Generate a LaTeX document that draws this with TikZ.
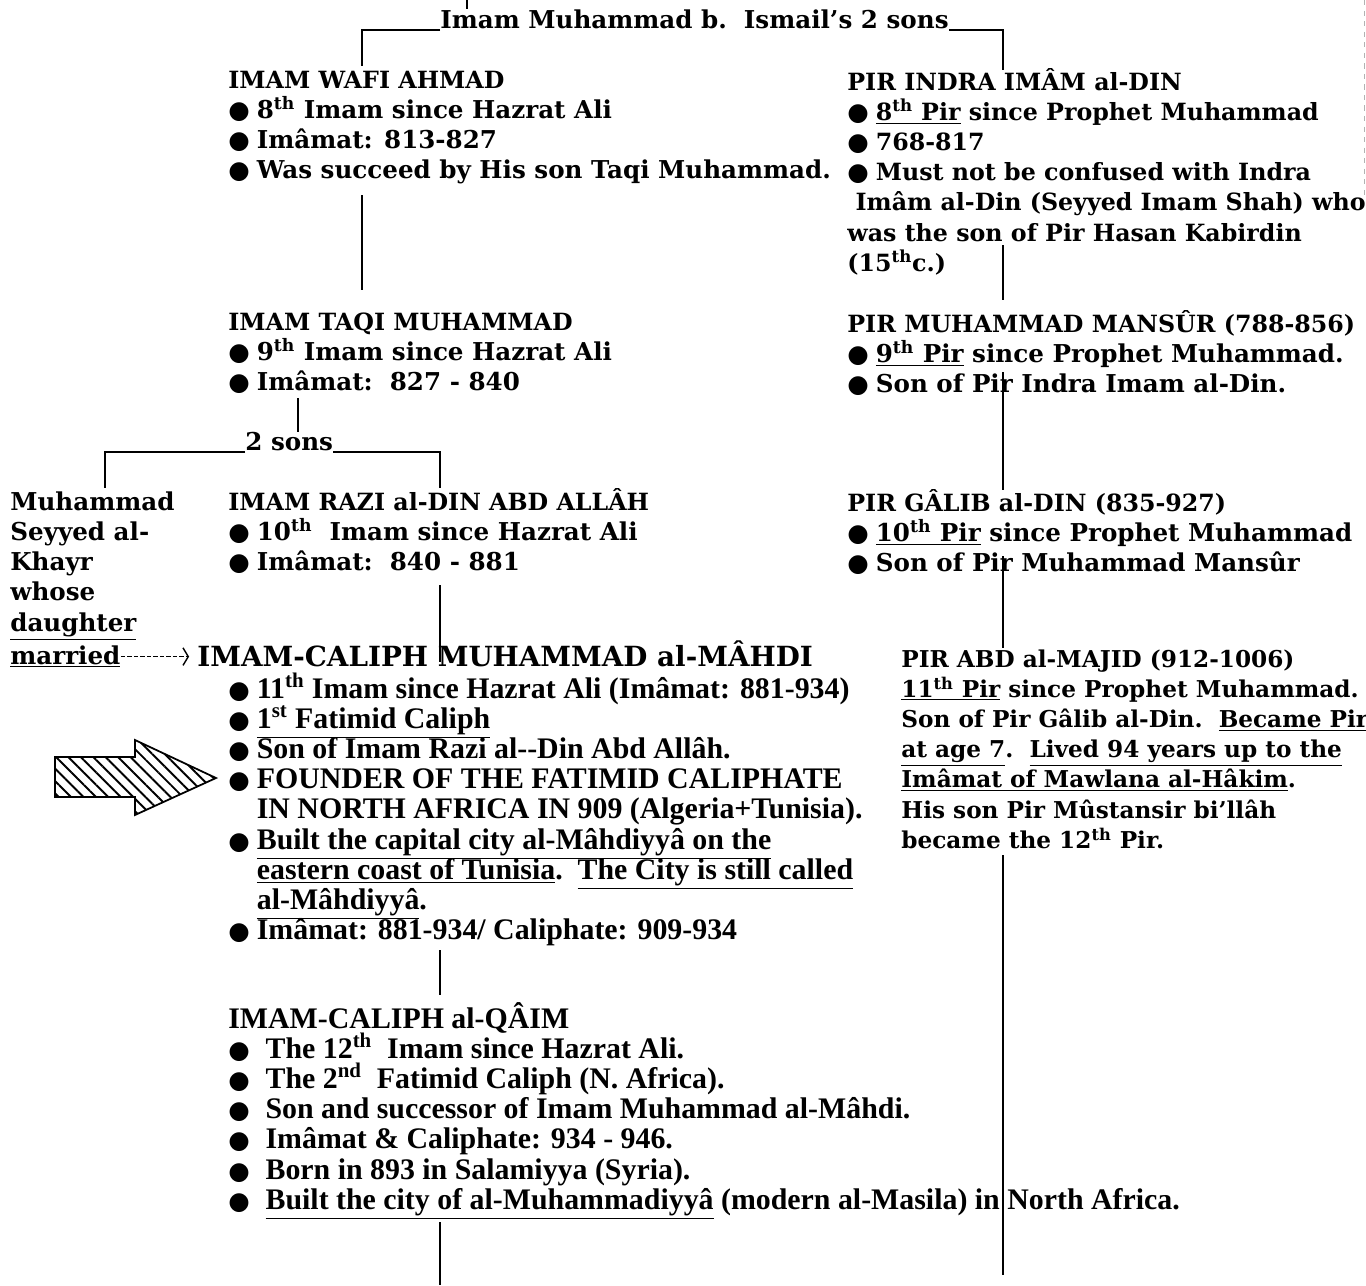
\documentclass[tikz,border=0pt]{standalone}
\usepackage{fontspec}
\setmainfont{DejaVu Serif}
\newfontfamily\condfont{Liberation Serif}
\newfontfamily\symfont{DejaVu Sans}
\usetikzlibrary{arrows.meta}
\usetikzlibrary{patterns.meta}

\newcommand\tightlines{\lineskiplimit=-20pt\lineskip=0pt}
\newcommand\geofont{\fontsize{14}{17.2}\selectfont\bfseries\tightlines}
\newcommand\capfont{\fontsize{13.5}{17.2}\selectfont}
\newcommand\narfont{\condfont\fontsize{17}{17.2}\selectfont\bfseries\tightlines}
\newcommand\bltmark{{\symfont\fontsize{14}{14}\selectfont ●}}
\newcommand\blt{\bltmark\hspace{4pt}}
\newcommand\hbul{\phantom{\bltmark}\hspace{4pt}}
\newcommand\bltw{\bltmark\hspace{9pt}}

\begin{document}
\begin{tikzpicture}[x=0.02cm,y=-0.02cm,
		every node/.style={inner sep=0pt},
		blk/.style={anchor=base west,align=left,font=\geofont},
		nar/.style={anchor=base west,align=left,font=\narfont},
		link/.style={line width=0.9pt}]
		\useasboundingbox (0,0) rectangle (1366,1285);

		% text blocks, each placed by the baseline of its last line
		\node [blk] (ismail) at (440,28) {Imam Muhammad b.\ \ Ismail’s 2 sons};

		\node [blk] (wafi) at (228,178.7) {{\capfont IMAM WAFI AHMAD}\\
			\blt 8\textsuperscript{th} Imam since Hazrat Ali\\
			\blt Imâmat: 813-827\\
			\blt Was succeed by His son Taqi Muhammad.};
		\node [blk,font=\fontsize{13.5}{17.2}\selectfont\bfseries\tightlines] (indra) at (847,271.4) {PIR INDRA IMÂM al-DIN\\
			\blt \underline{8\textsuperscript{th} Pir} since Prophet Muhammad\\
			\blt 768-817\\
			\blt Must not be confused with Indra\\
			\ Imâm al-Din (Seyyed Imam Shah) who\\
			was the son of Pir Hasan Kabirdin\\
			(15\textsuperscript{th}c.)};

		\node [blk] (taqi) at (228,390.5) {{\capfont IMAM TAQI MUHAMMAD}\\
			\blt 9\textsuperscript{th} Imam since Hazrat Ali\\
			\blt Imâmat:\ \ 827 - 840};
		\node [blk] (mansur) at (847,392.5) {{\capfont PIR MUHAMMAD MANSÛR (788-856)}\\
			\blt \underline{9\textsuperscript{th} Pir} since Prophet Muhammad.\\
			\blt Son of Pir Indra Imam al-Din.};

		\node [blk] (twosons) at (245,450) {2 sons};

		\node [blk] (seyyed) at (10,631) {Muhammad\\
			Seyyed al-\\
			Khayr\\
			whose\\
			\underline{daughter}};
		\node [blk] (married) at (10,664) {\underline{married}};
		\node [blk] (razi) at (228,570.5) {{\capfont IMAM RAZI al-DIN ABD ALLÂH}\\
			\blt 10\textsuperscript{th}\ \ Imam since Hazrat Ali\\
			\blt Imâmat:\ \ 840 - 881};
		\node [blk] (galib) at (847,571.5) {{\capfont PIR GÂLIB al-DIN (835-927)}\\
			\blt \underline{10\textsuperscript{th} Pir} since Prophet Muhammad\\
			\blt Son of Pir Muhammad Mansûr};

		\node [blk,font=\fontsize{15.8}{17.2}\selectfont\bfseries] (mahdi) at (197,666) {IMAM-CALIPH MUHAMMAD al-MÂHDI};
		\node [nar] (mahdinotes) at (228,939.8) {\blt 11\textsuperscript{th} Imam since Hazrat Ali (Imâmat: 881-934)\\
			\blt \underline{1\textsuperscript{st} Fatimid Caliph}\\
			\blt Son of Imam Razi al--Din Abd Allâh.\\
			\blt FOUNDER OF THE FATIMID CALIPHATE\\
			\hbul IN NORTH AFRICA IN 909 (Algeria+Tunisia).\\
			\blt \underline{Built the capital city al-Mâhdiyyâ on the}\\
			\hbul \underline{eastern coast of Tunisia}.\ \ \underline{The City is still called}\\
			\hbul \underline{al-Mâhdiyyâ}.\\
			\blt Imâmat: 881-934/ Caliphate: 909-934};
		\node [blk,font=\fontsize{13.2}{17.2}\selectfont\bfseries\tightlines] (majid) at (901,848.4) {PIR ABD al-MAJID (912-1006)\\
			\underline{11\textsuperscript{th} Pir} since Prophet Muhammad.\\
			Son of Pir Gâlib al-Din.\ \ \underline{Became Pir}\\
			\underline{at age 7}.\ \ \underline{Lived 94 years up to the}\\
			\underline{Imâmat of Mawlana al-Hâkim}.\\
			His son Pir Mûstansir bi’llâh\\
			became the 12\textsuperscript{th} Pir.};

		\node [nar] (qaim) at (228,1209.4) {IMAM-CALIPH al-QÂIM\\
			\bltw The 12\textsuperscript{th}\ \ Imam since Hazrat Ali.\\
			\bltw The 2\textsuperscript{nd}\ \ Fatimid Caliph (N.\ Africa).\\
			\bltw Son and successor of Imam Muhammad al-Mâhdi.\\
			\bltw Imâmat \& Caliphate: 934 - 946.\\
			\bltw Born in 893 in Salamiyya (Syria).\\
			\bltw \underline{Built the city of al-Muhammadiyyâ} (modern al-Masila) in North Africa.};

		\coordinate (above) at (467,0);
		\coordinate (wafiin) at (362,66);
		\coordinate (indrain) at (1003,70);
		\coordinate (wafiout) at (362,195);
		\coordinate (taqiin) at (362,290);
		\coordinate (taqiout) at (298,398);
		\coordinate (sonsin) at (298,432);
		\coordinate (seyyedin) at (105,488);
		\coordinate (raziin) at (440,488);
		\coordinate (raziout) at (440,585);
		\coordinate (mahdiin) at (440,662);
		\coordinate (mahdiout) at (440,950);
		\coordinate (qaimin) at (440,995);
		\coordinate (qaimout) at (440,1222);
		\coordinate (qaimnext) at (440,1285);
		\coordinate (indraout) at (1003,245);
		\coordinate (mansurin) at (1003,300);
		\coordinate (mansurout) at (1003,372);
		\coordinate (galibin) at (1003,490);
		\coordinate (galibout) at (1003,556);
		\coordinate (majidin) at (1003,648);
		\coordinate (majidout) at (1003,855);
		\coordinate (majidnext) at (1003,1275);

		\draw [link] (above) -- (ismail.north -| above);
		\draw [link] ([yshift=-1pt]ismail.base west) -| (wafiin);
		\draw [link] ([yshift=-1pt]ismail.base east) -| (indrain);
		\draw [link] (wafiout) -- (taqiin);
		\draw [link] (taqiout) -- (sonsin);
		\draw [link] ([yshift=-1pt]twosons.base west) -| (seyyedin);
		\draw [link] ([yshift=-1pt]twosons.base east) -| (raziin);
		\draw [link] (raziout) -- (mahdiin);
		\draw [link] (mahdiout) -- (qaimin);
		\draw [link] (qaimout) -- (qaimnext);
		\draw [link] (indraout) -- (mansurin);
		\draw [link] (mansurout) -- (galibin);
		\draw [link] (galibout) -- (majidin);
		\draw [link] (majidout) -- (majidnext);

		\draw [line width=0.8pt,dash pattern=on 2.5pt off 1.2pt,-{Straight Barb[length=3pt,width=10pt]},shorten >=4.5pt]
			(married.east) -- (married.east -| mahdi.west);

		% striped pointer
		\draw [line width=1pt,pattern={Lines[angle=-45,distance=5pt,line width=1.1pt]}]
			(55,757) -- (135,757) -- (135,740) -- (216,778) -- (135,815) -- (135,797) -- (55,797) -- cycle;

		\draw [gray!60,dashed,line width=0.4pt] (1364,0) -- (1364,195);
	\end{tikzpicture}
\end{document}
